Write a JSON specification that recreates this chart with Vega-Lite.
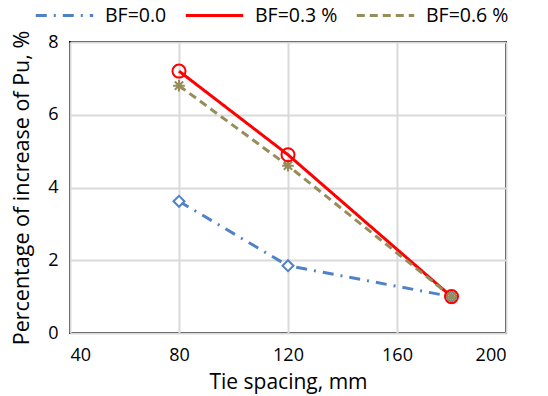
{
  "$schema": "https://vega.github.io/schema/vega-lite/v6.json",
  "width": 436,
  "height": 291,
  "autosize": {"type": "none"},
  "padding": {"left": 70, "top": 42, "right": 42, "bottom": 63},
  "background": "white",
  "config": {
    "font": "Open Sans",
    "view": {"stroke": "black", "strokeWidth": 2}
  },
  "data": {
    "values": [
      {"series": "BF=0.0", "spacing": 80, "pct": 3.62},
      {"series": "BF=0.0", "spacing": 120, "pct": 1.85},
      {"series": "BF=0.0", "spacing": 180, "pct": 1.0},
      {"series": "BF=0.3 %", "spacing": 80, "pct": 7.2},
      {"series": "BF=0.3 %", "spacing": 120, "pct": 4.9},
      {"series": "BF=0.3 %", "spacing": 180, "pct": 1.0},
      {"series": "BF=0.6 %", "spacing": 80, "pct": 6.8},
      {"series": "BF=0.6 %", "spacing": 120, "pct": 4.6},
      {"series": "BF=0.6 %", "spacing": 180, "pct": 1.0}
    ]
  },
  "encoding": {
    "x": {
      "field": "spacing", "type": "quantitative",
      "scale": {"domain": [40, 200], "nice": false},
      "axis": {
        "values": [40, 80, 120, 160, 200],
        "title": "Tie spacing, mm",
        "titleFontSize": 21, "titleFontWeight": "normal", "titleColor": "black", "titlePadding": 7,
        "labelFontSize": 18, "labelColor": "black", "labelPadding": 13,
        "ticks": false, "domain": false,
        "gridColor": "#D9D9D9", "gridWidth": 2
      }
    },
    "y": {
      "field": "pct", "type": "quantitative",
      "scale": {"domain": [0, 8], "nice": false},
      "axis": {
        "values": [0, 2, 4, 6, 8],
        "title": "Percentage of increase of Pu, %",
        "titleFontSize": 21.5, "titleFontWeight": "normal", "titleColor": "black", "titlePadding": 14,
        "labelFontSize": 18, "labelColor": "black", "labelPadding": 12,
        "ticks": false, "domain": false,
        "gridColor": "#D9D9D9", "gridWidth": 2
      }
    }
  },
  "layer": [
    {
      "mark": {"type": "line", "strokeWidth": 3},
      "encoding": {
        "color": {
          "field": "series", "type": "nominal",
          "scale": {"domain": ["BF=0.0", "BF=0.3 %", "BF=0.6 %"], "range": ["#5082C8", "#FF0000", "#978D59"]},
          "legend": {
            "orient": "none", "legendX": -36, "legendY": -57,
            "direction": "horizontal", "title": null,
            "symbolType": "stroke", "symbolSize": 3300, "symbolStrokeWidth": 3,
            "labelFontSize": 19.5, "labelColor": "black", "columnPadding": 12,
            "labelLimit": 200, "labelOffset": 10
          }
        },
        "strokeDash": {
          "field": "series", "type": "nominal",
          "scale": {"domain": ["BF=0.0", "BF=0.3 %", "BF=0.6 %"], "range": [[11, 7, 2, 7], [1, 0], [8, 5]]},
          "legend": {
            "orient": "none", "legendX": -36, "legendY": -57,
            "direction": "horizontal", "title": null,
            "symbolType": "stroke", "symbolSize": 3300, "symbolStrokeWidth": 3,
            "labelFontSize": 19.5, "labelColor": "black", "columnPadding": 12,
            "labelLimit": 200, "labelOffset": 10
          }
        }
      }
    },
    {
      "transform": [{"filter": "datum.series === 'BF=0.0'"}],
      "mark": {"type": "point", "shape": "diamond", "filled": false, "stroke": "#5082C8", "fill": "white", "fillOpacity": 1, "strokeWidth": 2, "opacity": 1, "size": 120},
      "encoding": {}
    },
    {
      "transform": [{"filter": "datum.series === 'BF=0.6 %'"}],
      "mark": {"type": "point", "shape": "M-1,0L1,0M0,-1L0,1M-0.7,-0.7L0.7,0.7M-0.7,0.7L0.7,-0.7", "filled": false, "stroke": "#978D59", "strokeWidth": 2, "opacity": 1, "size": 140},
      "encoding": {}
    },
    {
      "transform": [{"filter": "datum.series === 'BF=0.3 %'"}],
      "mark": {"type": "point", "shape": "circle", "filled": false, "stroke": "#FF0000", "strokeWidth": 2, "opacity": 1, "size": 170},
      "encoding": {}
    }
  ]
}
